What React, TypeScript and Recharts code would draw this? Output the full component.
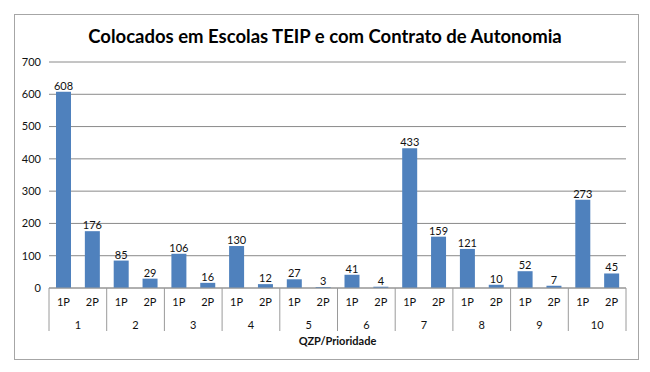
import { Bar, BarChart, CartesianGrid, Label, LabelList, XAxis, YAxis } from "recharts"

const groups = ["1", "2", "3", "4", "5", "6", "7", "8", "9", "10"]
const priorities = ["1P", "2P"]
const values = [608, 176, 85, 29, 106, 16, 130, 12, 27, 3, 41, 4, 433, 159, 121, 10, 52, 7, 273, 45]
const yTicks = [0, 100, 200, 300, 400, 500, 600, 700]

const data = values.map((v, i) => ({
  name: priorities[i % 2],
  group: groups[Math.floor(i / 2)],
  total: v,
}))

const FONT = "Lato, 'Open Sans', sans-serif"
const PLOT_LEFT = 49
const PLOT_RIGHT = 626
const BAND = (PLOT_RIGHT - PLOT_LEFT) / data.length

function MultiTick(props: any) {
  const { x, y, payload } = props
  const i = payload.index
  const row = data[i]
  return (
    <g>
      <text x={x} y={y + 18} textAnchor="middle" fontSize={11} fill="#111" fontFamily={FONT}>
        {payload.value}
      </text>
      {i % 2 === 0 && (
        <>
          <text x={x + BAND / 2} y={y + 41} textAnchor="middle" fontSize={11} fill="#111" fontFamily={FONT}>
            {row.group}
          </text>
          <line x1={x - BAND / 2} x2={x - BAND / 2} y1={y} y2={y + 43} stroke="#9a9a9a" />
        </>
      )}
      {i === data.length - 1 && (
        <line x1={x + BAND / 2} x2={x + BAND / 2} y1={y} y2={y + 43} stroke="#9a9a9a" />
      )}
    </g>
  )
}

export default function App() {
  return (
    <div style={{ position: "absolute", left: 0, top: 0, width: 650, height: 372, background: "#fff" }}>
      <div
        style={{
          position: "absolute",
          left: 14,
          top: 14,
          width: 623,
          height: 344,
          border: "1px solid #a6a6a6",
        }}
      />
      <div
        style={{
          position: "absolute",
          left: 0,
          top: 25,
          width: 650,
          textAlign: "center",
          fontFamily: FONT,
          fontWeight: 700,
          fontSize: 18.5,
          color: "#000",
        }}
      >
        Colocados em Escolas TEIP e com Contrato de Autonomia
      </div>
      <div style={{ position: "absolute", left: 0, top: 0 }}>
        <BarChart
          width={650}
          height={372}
          data={data}
          margin={{ top: 62, right: 650 - PLOT_RIGHT, bottom: 24, left: 0 }}
          barSize={15}
        >
          <CartesianGrid vertical={false} stroke="#8a8a8a" />
          <XAxis
            dataKey="name"
            interval={0}
            height={60}
            tickSize={0}
            tickMargin={0}
            tickLine={false}
            stroke="#9a9a9a"
            tick={<MultiTick />}
          >
            <Label
              value="QZP/Prioridade"
              position="insideBottom"
              offset={3}
              style={{ fontFamily: FONT, fontSize: 11, fontWeight: 700, fill: "#111" }}
            />
          </XAxis>
          <YAxis
            width={PLOT_LEFT}
            domain={[0, 700]}
            ticks={yTicks}
            axisLine={false}
            tickLine={false}
            tick={{ fontSize: 11, fill: "#111", fontFamily: FONT }}
          />
          <Bar dataKey="total" fill="#4f81bd" isAnimationActive={false}>
            <LabelList dataKey="total" position="top" offset={2} style={{ fontSize: 11, fill: "#111", fontFamily: FONT }} />
          </Bar>
        </BarChart>
      </div>
    </div>
  )
}
